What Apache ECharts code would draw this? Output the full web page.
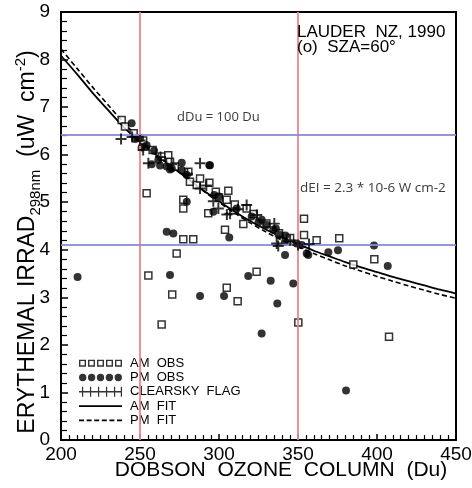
<!DOCTYPE html>
<html>
<head>
<meta charset="utf-8">
<script src="https://cdn.jsdelivr.net/npm/echarts@6/dist/echarts.min.js"></script>
<style>html,body{margin:0;padding:0;background:#fff}#c{width:472px;height:488px}</style>
</head>
<body>
<div id="c"></div>
<script>
// ---- data ----
const xTicks = [200, 250, 300, 350, 400, 450];
const yTicks = [0, 1, 2, 3, 4, 5, 6, 7, 8, 9];
const amObs = [
  [238.4,6.73],[240.5,6.59],[246,6.45],[252,6.3],[254.2,5.19],[258,6.1],[263.7,5.96],[267.9,5.99],[269,5.85],
  [272,5.75],[280.6,5.64],[281.6,5.43],[277.4,5.05],[277.4,4.87],[285.9,5.36],[288,5.5],[293.9,5.41],[298,5.22],
  [300,5.1],[305.9,5.24],[304.9,5.05],[293.2,4.77],[310,4.95],[315.4,4.54],[317.5,4.87],[322,4.75],[330,4.55],
  [303.8,4.42],[277.4,4.22],[283.7,4.22],[338,4.35],[345,4.25],[353.8,4.65],[353.8,4.31],[361.8,4.2],[376.1,4.24],
  [255.3,3.46],[273.2,3.92],[270.4,3.06],[263.7,2.43],[304.9,3.2],[311.8,2.92],[323.8,3.54],[350.2,2.47],
  [385,3.69],[398.3,3.8],[407.6,2.17]
];
const pmObs = [
  [210.5,3.43],[269,3.47],[288,3.03],[303.2,3.03],[318.5,3.45],[332.7,3.35],[336.9,2.87],[347,3.29],[327,2.24],
  [341.8,3.89],[356.5,3.89],[369.2,3.95],[375.3,3.99],[398.1,4.09],[406.8,3.66],[380.4,1.04],
  [244.7,6.66],[247,6.33],[250,6.35],[251,6.15],[254.2,6.2],[258.9,6.08],[257.4,5.8],[261.6,5.89],[262.7,5.77],
  [266.9,5.75],[269,5.69],[270.1,5.71],[276.4,5.83],[276.4,5.68],[279.6,5.57],[293.9,5.78],[294.3,5.78],
  [279.6,5.01],[266.9,4.38],[271.1,4.34],[306.5,4.26],[297,5.15],[300,5.12],[296.4,4.8],[311.2,4.87],
  [320.7,4.7],[325,4.58],[327,4.63],[330.2,4.52],[334.4,4.42],[336,4.45],[338.6,4.31],[341.8,4.17],[342,4.3],
  [349.2,4.13],[352.3,4.1],[355.5,3.92]
];
const clearSky = [
  [238,6.33],[245,6.37],[250,6.3],[252,6.1],[255.3,5.82],[263,5.95],[270,5.8],[280,5.6],[288,5.82],[288,5.29],
  [292,5.35],[296.4,5.02],[299.6,4.87],[305,4.74],[307,4.76],[312,4.85],[317.5,4.94],[323.9,4.73],[335,4.55],
  [336.5,4.13],[337.5,4.08],[345,4.2],[350,4.1],[357,4.12]
];
const fitX = [200,210,220,230,240,250,260,270,280,290,300,310,320,330,340,350,360,370,380,390,400,410,420,430,440,450];
const amFit = [8.08,7.7,7.3,6.93,6.57,6.27,6.0,5.75,5.5,5.25,5.02,4.8,4.6,4.42,4.26,4.12,3.98,3.86,3.74,3.63,3.53,3.43,3.34,3.25,3.16,3.08];
const pmFit = [8.22,7.82,7.42,7.04,6.66,6.33,6.03,5.76,5.5,5.24,5.0,4.77,4.56,4.37,4.2,4.06,3.92,3.79,3.66,3.55,3.44,3.34,3.24,3.15,3.06,2.98];
const redLinesX = [250, 350];
const blueLinesY = [6.41, 4.1];
const seriesNames = ['AM  OBS', 'PM  OBS', 'CLEARSKY  FLAG', 'AM  FIT', 'PM  FIT'];
const titleLines = ['LAUDER  NZ, 1990', '(o)  SZA=60°'];
const noteDu = 'dDu = 100 Du';
const noteEI = 'dEI = 2.3 * 10-6 W cm-2';

// ---- legend icon paths (style only) ----
function squaresIcon(){let p='';for(let i=0;i<5;i++){const x=i*9;p+=`M${x},0H${x+7}V7H${x}Z`+`M${x+1.4},1.4V5.6H${x+5.6}V1.4Z`;}return 'path://'+p;}
function circlesIcon(){let p='';const r=3.7;for(let i=0;i<5;i++){const c=r+i*8.9;p+=`M${c-r},${r}A${r},${r} 0 1 0 ${c+r},${r}A${r},${r} 0 1 0 ${c-r},${r}Z`;}return 'path://'+p;}
function flagIcon(){let p='M0,4.3H43V5.7H0Z';[3,11,19,27,35,41.8].forEach(x=>{p+=`M${x},0H${x+1.2}V10H${x}Z`;});return 'path://'+p;}
function dashIcon(){let p='';for(let i=0;i<6;i++){const x=i*7.6;p+=`M${x},0H${x+5}V1.6H${x}Z`;}return 'path://'+p;}
const plusSym = 'path://M4.1,0H5.9V10H4.1ZM0,4.1H10V5.9H0Z';

const chart = echarts.init(document.getElementById('c'), null, {renderer:'canvas'});
const FONT = 'Liberation Sans, Arial, sans-serif';
const zip = (xs, ys) => xs.map((x,i)=>[x, ys[i]]);
const legendItem = (name, icon) => ({name, icon, itemStyle:{color:'#000', borderWidth:0}});

chart.setOption({
  animation:false,
  backgroundColor:'#fff',
  title:{
    text: titleLines.join('\n'), left:292, top:20,
    textStyle:{fontFamily:FONT, fontSize:17, fontWeight:'normal', color:'#000', lineHeight:15}
  },
  grid:{left:61, right:16, top:12, bottom:48, show:true, borderColor:'#000', borderWidth:2,
    containLabel:false, outerBoundsMode:'none'},
  legend:{
    orient:'vertical', left:74, top:351, itemWidth:43, itemHeight:10, itemGap:0, selectedMode:false,
    symbolKeepAspect:true,
    textStyle:{fontFamily:FONT, fontSize:13, color:'#000', lineHeight:14.3, padding:[0,0,0,3]},
    data:[
      legendItem(seriesNames[0], squaresIcon()),
      legendItem(seriesNames[1], circlesIcon()),
      legendItem(seriesNames[2], flagIcon()),
      legendItem(seriesNames[3], 'path://M0,0H43V1.8H0Z'),
      legendItem(seriesNames[4], dashIcon())
    ]
  },
  xAxis:{
    type:'value', min:xTicks[0], max:xTicks[xTicks.length-1], interval:50,
    name:'DOBSON  OZONE  COLUMN  (Du)', nameLocation:'middle', nameGap:20, nameMoveOverlap:false,
    nameTextStyle:{fontFamily:FONT, fontSize:21, color:'#000', padding:[0,0,0,45]},
    axisLine:{onZero:false, lineStyle:{color:'#000', width:2}},
    axisTick:{inside:true, length:6, lineStyle:{color:'#000', width:1.5}},
    minorTick:{show:true, splitNumber:10, length:5, lineStyle:{color:'#000', width:1.2}},
    splitLine:{show:false},
    axisLabel:{fontFamily:FONT, fontSize:19, color:'#000', margin:5, showMinLabel:true, showMaxLabel:true}
  },
  yAxis:{
    type:'value', min:yTicks[0], max:yTicks[yTicks.length-1], interval:1,
    name:'{a|ERYTHEMAL IRRAD}{b|298nm}{a|  (uW  cm}{c|-2}{a|)}', nameLocation:'middle', nameRotate:90, nameGap:18,
    nameMoveOverlap:false,
    nameTextStyle:{fontFamily:FONT, color:'#000', padding:[0,32,0,0],
      rich:{
        a:{fontFamily:FONT, fontSize:23, color:'#000', lineHeight:30, verticalAlign:'middle'},
        b:{fontFamily:FONT, fontSize:15, color:'#000', lineHeight:15, verticalAlign:'bottom'},
        c:{fontFamily:FONT, fontSize:15, color:'#000', lineHeight:15, verticalAlign:'top'}
      }},
    axisLine:{lineStyle:{color:'#000', width:2}},
    axisTick:{inside:true, length:7, lineStyle:{color:'#000', width:1.5}},
    minorTick:{show:true, splitNumber:5, length:6, lineStyle:{color:'#000', width:1.2}},
    splitLine:{show:false},
    axisLabel:{fontFamily:FONT, fontSize:19, color:'#000', margin:11}
  },
  graphic:[
    {type:'text', left:177, top:111, style:{text:noteDu, font:'13px "Open Sans", sans-serif', fill:'#3a3a3a'}},
    {type:'text', left:300, top:181, style:{text:noteEI, font:'13.5px "Open Sans", sans-serif', fill:'#3a3a3a'}}
  ],
  series:[
    {name:seriesNames[0], type:'scatter', data:amObs, symbol:'rect', symbolSize:7,
      itemStyle:{color:'#fff', borderColor:'#000', borderWidth:1.5}, z:3},
    {name:seriesNames[1], type:'scatter', data:pmObs, symbol:'circle', symbolSize:8,
      itemStyle:{color:'#000'}, z:4},
    {name:seriesNames[2], type:'scatter', data:clearSky, symbol:plusSym, symbolSize:11,
      itemStyle:{color:'#000'}, z:5},
    {name:seriesNames[3], type:'line', data:zip(fitX, amFit), showSymbol:false, smooth:0.3,
      lineStyle:{color:'#000', width:1.8}, z:2},
    {name:seriesNames[4], type:'line', data:zip(fitX, pmFit), showSymbol:false, smooth:0.3,
      lineStyle:{color:'#000', width:1.6, type:[5,3]}, z:2},
    {name:'guides', type:'line', data:[], z:10, silent:true,
      markLine:{silent:true, symbol:['none','none'], label:{show:false}, animation:false,
        data:[
          ...redLinesX.map(v=>({xAxis:v, lineStyle:{color:'#ef8585', width:2, type:'solid', opacity:0.9}})),
          ...blueLinesY.map(v=>({yAxis:v, lineStyle:{color:'#8a8ae6', width:2, type:'solid', opacity:0.9}}))
        ]}}
  ]
});
</script>
</body>
</html>
